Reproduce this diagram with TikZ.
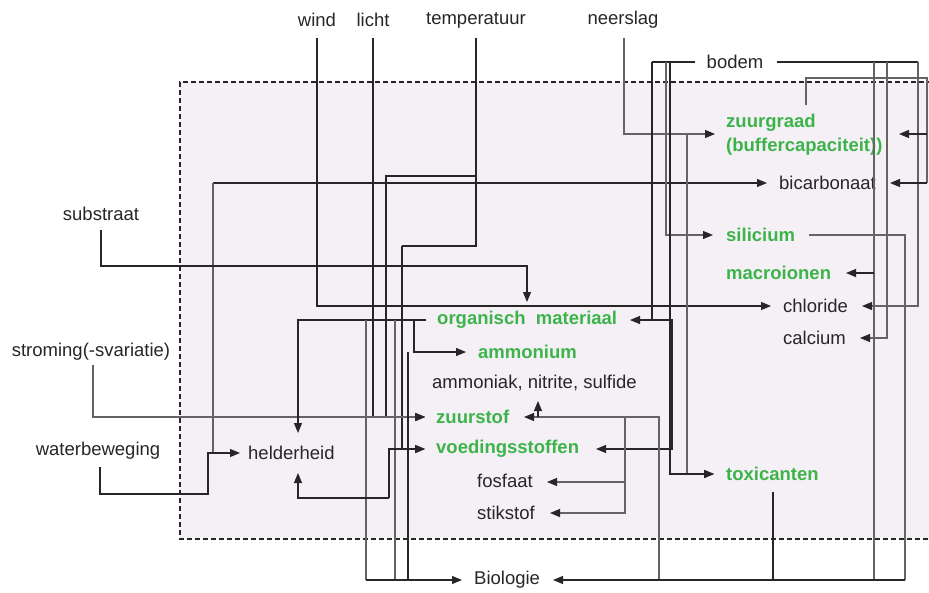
\documentclass[tikz,border=0pt]{standalone}
\usepackage{fontspec}
\setmainfont{Liberation Sans}
\usetikzlibrary{arrows.meta}
\definecolor{grn}{RGB}{60,180,74}
\definecolor{bgc}{RGB}{245,240,246}
\definecolor{dk}{RGB}{38,38,38}
\definecolor{lt}{RGB}{100,100,100}
\begin{document}
\begin{tikzpicture}[x=1pt,y=-1pt,
  lbl/.style={inner sep=0pt, font=\fontsize{18.5}{20}\selectfont, text=black!85},
  glbl/.style={inner sep=0pt, font=\fontsize{18.5}{20}\selectfont\bfseries, text=grn},
  ln/.style={draw=dk, line width=1.1pt},
  lg/.style={draw=lt, line width=1.1pt},
  arr/.style={-{Triangle[length=10pt,width=8pt,color=dk]}},
  rra/.style={{Triangle[length=10pt,width=8pt,color=dk]}-}]
\useasboundingbox (0,0) rectangle (929,592);
\fill[bgc] (180,82) rectangle (940,539);
\draw[line width=1.2pt, dash pattern=on 5pt off 3pt, draw=dk] (940,82) -- (180,82) -- (180,539) -- (940,539);

% labels
\node[lbl] (wind) at (317,20) {wind};
\node[lbl] (licht) at (373,20) {licht};
\node[lbl] (temp) at (476,20) {temperatuur};
\node[lbl] (neer) at (623,20) {neerslag};
\node[lbl] (bodem) at (735,62) {bodem};
\node[lbl] (substr) at (101,214) {substraat};
\node[lbl] (strom) at (91,352) {stroming(-svariatie)};
\node[lbl] (water) at (98,451) {waterbeweging};
\node[lbl, anchor=west] (held) at (248,453) {helderheid};
\node[glbl, anchor=west] (zuurg) at (726,123) {zuurgraad};
\node[glbl, anchor=west] (buff) at (726,147) {(buffercapaciteit))};
\node[lbl, anchor=west] (bicarb) at (779,183) {bicarbonaat};
\node[glbl, anchor=west] (silic) at (726,235) {silicium};
\node[glbl, anchor=west] (macro) at (726,273) {macroionen};
\node[lbl, anchor=west] (chlor) at (783,306) {chloride};
\node[lbl, anchor=west] (calc) at (783,338) {calcium};
\node[glbl, anchor=west] (org) at (437,320) {organisch~~materiaal};
\node[glbl, anchor=west] (amm) at (478,352) {ammonium};
\node[lbl, anchor=west] (ammk) at (432,383) {ammoniak, nitrite, sulfide};
\node[glbl, anchor=west] (zs) at (436,417) {zuurstof};
\node[glbl, anchor=west] (voed) at (436,449) {voedingsstoffen};
\node[lbl, anchor=west] (fosf) at (477,481) {fosfaat};
\node[lbl, anchor=west] (stik) at (477,513) {stikstof};
\node[glbl, anchor=west] (tox) at (726,474) {toxicanten};
\node[lbl, anchor=west] (bio) at (474,580) {Biologie};

% wind -> chloride
\draw[ln,arr] (317,38) |- (771,306);
% licht -> zuurstof
\draw[ln,arr] (373,38) |- (425,417);
% bicarbonaat / helderheid line
\draw[ln,arr] (213,183) -- (767,183);
\draw[lg] (213,183) -- (213,453);
% waterbeweging -> helderheid
\draw[ln,arr] (100,467) |- (208,494) |- (240,453);
% temperatuur
\draw[ln] (476,38) |- (402,246);
\draw[ln,arr] (402,246) |- (425,449);
\draw[ln,arr] (476,176) -| (386,417) -- (425,417);
% substraat -> organisch materiaal
\draw[ln,arr] (101,230) |- (527,266) -- (527,302);
% stroming -> zuurstof
\draw[lg,arr] (93,365) |- (425,417);
% organisch materiaal left side
\draw[ln,arr] (426,320) -| (298,433);
\draw[lg] (366,320) -- (366,580);
\draw[lg] (395,320) -- (395,580);
\draw[ln,arr] (414,320) |- (466,352);
\draw[ln] (408,352) -- (408,580);
\draw[ln,arr] (366,580) -- (462,580);
% helderheid <-> voedingsstoffen
\draw[ln,rra] (298,473) |- (389,498);
\draw[ln,arr] (389,498) |- (425,449);
% neerslag -> zuurgraad
\draw[lg,arr] (624,38) |- (715,134);
% zuurgraad -> toxicanten
\draw[lg,arr] (687,134) |- (714,474);
% bodem left side
\draw[ln] (695,62) -- (652,62);
\draw[ln,arr] (652,62) |- (630,320);
\draw[lg,arr] (666,62) |- (713,235);
\draw[ln,arr] (670,62) |- (714,474);
\draw[ln,arr] (652,320) -- (672,320) |- (596,449);
% zuurstof / fosfaat / stikstof box
\draw[lg,arr] (659,580) |- (524,417);
\draw[lg,arr] (625,417) |- (550,513);
\draw[lg,arr] (625,482) -- (547,482);
\draw[ln,arr] (538,417) -- (538,401);
% bodem right side
\draw[ln] (777,62) -- (918,62);
\draw[lg] (874,62) -- (874,580);
\draw[ln,arr] (874,273) -- (846,273);
\draw[lg,arr] (887,62) |- (860,338);
\draw[lg,arr] (918,62) |- (862,306);
% silicium -> Biologie
\draw[lg] (809,235) -| (905,580);
\draw[ln,arr] (905,580) -- (553,580);
% toxicanten -> Biologie
\draw[ln] (773,492) -- (773,580);
% zuurgraad loop
\draw[lg] (806,105) |- (927,78) -- (927,183);
\draw[ln,arr] (927,134) -- (899,134);
\draw[ln,arr] (927,183) -- (890,183);
\end{tikzpicture}
\end{document}
